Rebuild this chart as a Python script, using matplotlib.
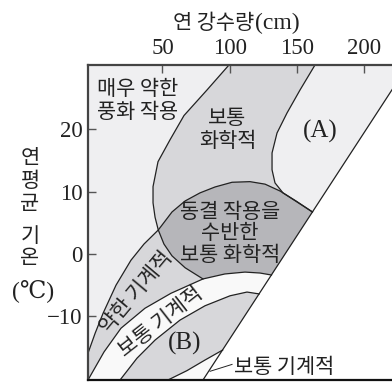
import numpy as np
import matplotlib.pyplot as plt

kr = ['Noto Sans CJK KR', 'DejaVu Sans']
serif = ['Liberation Serif', 'DejaVu Serif']

# boundary curves, x = annual precipitation (cm), y = mean annual temperature (C)
chem_left_x = [99.4, 83.1, 66.0, 55.6, 46.7, 43.0, 43.0, 44.5, 46.9, 51.1, 57.1, 66.8, 80.1]
chem_left_y = [30.3, 26.3, 22.2, 18.3, 14.8, 10.8, 8.2, 5.9, 3.85, 1.6, -0.3, -2.2, -4.0]
chem_right_x = [163.3, 152.2, 142.5, 135.1, 131.4, 131.4, 133.6, 139.5, 149.9, 161.4]
chem_right_y = [30.3, 26.3, 22.6, 19.4, 16.2, 13.5, 11.4, 9.8, 8.35, 6.74]
frost_top_x = [-5.3, 0.0, 5.9, 15.5, 26.6, 36.3, 46.9, 57.1, 66.8, 77.9, 89.1,
               101.7, 115.0, 126.2, 137.3, 149.2, 161.4]
frost_top_y = [-15.9, -12.7, -9.5, -5.0, -1.0, 1.6, 3.85, 6.74, 8.5, 9.8, 10.75,
               11.5, 11.6, 11.2, 10.1, 8.5, 6.74]
mech_top_x = [-5.3, 6.6, 19.2, 37.0, 56.3, 80.1, 96.4, 111.3, 122.4, 131.0]
mech_top_y = [-20.2, -15.7, -11.9, -8.7, -6.3, -4.0, -3.2, -2.9, -3.05, -3.37]
strong_top_x = [18.5, 31.1, 44.5, 63.0, 81.6, 100.2, 112.8, 121.8]
strong_top_y = [-20.2, -16.7, -13.8, -10.6, -8.3, -6.7, -6.1, -6.4]
strong_bot_x = [54.1, 68.2, 81.6, 94.7]
strong_bot_y = [-20.2, -18.7, -17.0, -15.4]
diag_x = [80.1, 232.5]
diag_y = [-20.2, 30.3]

xticks = [50, 100, 150, 200]
yticks = [-10, 0, 10, 20]

# junction indices
j1_left = 8   # chem_left meets frost_top
j1_frost = 6
j2_mech = 5   # chem_left ends on mech_top

light = '#efeff1'
mid = '#d7d7da'
dark = '#b6b6ba'
pale = '#f9f9f9'
ink = '#222222'

fig = plt.figure(figsize=(3.92, 3.83), dpi=100)
ax = fig.add_axes([88 / 392, 3 / 383, 304 / 392, 315 / 383])
ax.set_xlim(-5.3, 220.5)
ax.set_ylim(-20.2, 30.3)

cx, cy = np.array(chem_left_x), np.array(chem_left_y)
rx, ry = np.array(chem_right_x), np.array(chem_right_y)
fx, fy = np.array(frost_top_x), np.array(frost_top_y)
mx, my = np.array(mech_top_x), np.array(mech_top_y)
sx, sy = np.array(strong_top_x), np.array(strong_top_y)
bx, by = np.array(strong_bot_x), np.array(strong_bot_y)

# everything left of the diagonal
ax.fill([-6, diag_x[0], diag_x[1], -6], [diag_y[0], diag_y[0], diag_y[1], diag_y[1]],
        color=light, lw=0)
# moderate chemical
ax.fill(np.concatenate([cx, mx[j2_mech:], rx[::-1]]),
        np.concatenate([cy, my[j2_mech:], ry[::-1]]), color=mid, lw=0)
# chemical with frost
ax.fill(np.concatenate([fx[j1_frost:], mx[j2_mech:][::-1], cx[j1_left:][::-1]]),
        np.concatenate([fy[j1_frost:], my[j2_mech:][::-1], cy[j1_left:][::-1]]),
        color=dark, lw=0)
# weak mechanical
ax.fill(np.concatenate([fx[:j1_frost + 1], cx[j1_left:], mx[:j2_mech + 1][::-1]]),
        np.concatenate([fy[:j1_frost + 1], cy[j1_left:], my[:j2_mech + 1][::-1]]),
        color=mid, lw=0)
# moderate mechanical band
ax.fill(np.concatenate([mx, sx[::-1]]), np.concatenate([my, sy[::-1]]), color=pale, lw=0)
# strong mechanical (B)
ax.fill(np.concatenate([sx, bx[::-1]]), np.concatenate([sy, by[::-1]]), color=mid, lw=0)
# small moderate mechanical corner
ax.fill(np.concatenate([bx, [diag_x[0]]]), np.concatenate([by, [diag_y[0]]]),
        color=pale, lw=0)

for x, y in [(cx, cy), (rx, ry), (fx, fy), (mx, my), (sx, sy), (bx, by), (diag_x, diag_y)]:
    ax.plot(x, y, color=ink, lw=0.9)

# leader line for bottom label
ax.plot([85.4, 101.7], [-18.8, -17.7], color=ink, lw=0.7)

ax.text(1.4, 24.6, '매우 약한\n풍화 작용', family=kr, fontsize=15, ha='left', va='center',
        linespacing=1.03, color=ink)
ax.text(98.3, 20.0, '보통\n화학적', family=kr, fontsize=15, ha='center', va='center',
        linespacing=1.03, color=ink)
ax.text(167.2, 19.6, '(A)', family=serif, fontsize=18, ha='center', va='center', color=ink)
ax.text(100.2, 3.3, '동결 작용을\n수반한\n보통 화학적', family=kr, fontsize=15,
        ha='center', va='center', linespacing=0.97, color=ink)
ax.text(30.4, -6.1, '약한 기계적', family=kr, fontsize=15, ha='center', va='center',
        rotation=50, rotation_mode='anchor', color=ink)
ax.text(48.8, -10.9, '보통 기계적', family=kr, fontsize=15, ha='center', va='center',
        rotation=38, rotation_mode='anchor', color=ink)
ax.text(66.8, -14.3, '(B)', family=serif, fontsize=18, ha='center', va='center', color=ink)
ax.text(103.3, -18.1, '보통 기계적', family=kr, fontsize=15, ha='left', va='center',
        color=ink)

ax.xaxis.tick_top()
ax.set_xticks(xticks)
ax.set_xticklabels([str(v) for v in xticks], family=serif, fontsize=16.5)
ax.set_yticks(yticks)
ax.set_yticklabels([str(v).replace('-', '\u2212') for v in yticks], family=serif,
                   fontsize=16.5)
ax.tick_params(direction='in', length=6, width=1, color='#555555', labelcolor=ink, pad=4)

ax.spines['right'].set_visible(False)
for s in ['top', 'left', 'bottom']:
    ax.spines[s].set_linewidth(1.6)
    ax.spines[s].set_color('#444444')
ax.spines['bottom'].set_color('#111111')

# titles
fig.text(254 / 392, 1 - 23 / 383, '연 강수량', family=kr, fontsize=15, ha='right',
         va='center', color=ink)
fig.text(255 / 392, 1 - 23 / 383, '(cm)', family=serif, fontsize=17, ha='left',
         va='center', color=ink)
for ch, py in [('연', 158), ('평', 181), ('균', 204), ('기', 236), ('온', 258)]:
    fig.text(30 / 392, 1 - py / 383, ch, family=kr, fontsize=15, ha='center',
             va='center', color=ink)
fig.text(33 / 392, 1 - 291 / 383, '(℃)', family=serif, fontsize=17, ha='center',
         va='center', color=ink)

fig.savefig('out.png', dpi=100)
